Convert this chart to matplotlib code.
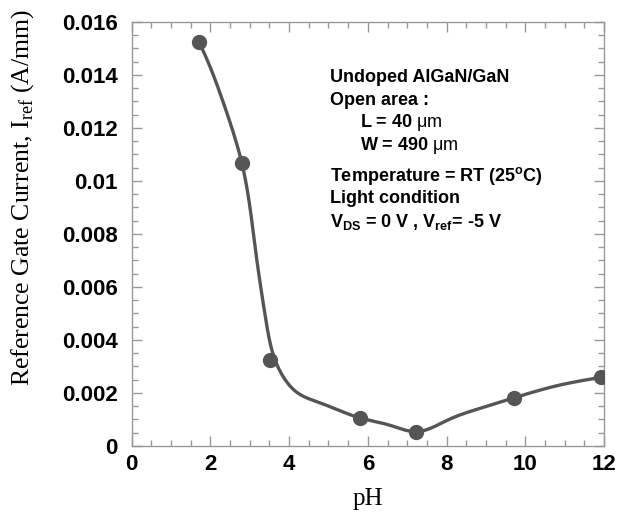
import numpy as np
import matplotlib
matplotlib.use("Agg")
import matplotlib.pyplot as plt
from matplotlib.ticker import MultipleLocator

plt.rcParams['mathtext.fontset'] = 'custom'
plt.rcParams['mathtext.rm'] = 'Liberation Serif'
plt.rcParams['mathtext.bf'] = 'Liberation Sans:bold'
plt.rcParams['mathtext.sf'] = 'Liberation Sans'

# measured data points
ph = [1.71, 2.80, 3.51, 5.80, 7.22, 9.72, 11.92]
current = [0.01526, 0.01067, 0.00325, 0.00105, 0.00054, 0.00182, 0.00259]

# fitted guide curve
fit_ph = [1.71, 1.98, 2.25, 2.53, 2.80, 3.15, 3.41, 3.66, 3.90, 4.20, 4.80, 5.80,
          6.59, 7.22, 8.03, 8.87, 9.72, 10.82, 11.92]
fit_current = [0.01526, 0.01435, 0.01329, 0.01207, 0.01067, 0.00735, 0.00475, 0.00318,
               0.00250, 0.00202, 0.00162, 0.00106, 0.00077, 0.00054, 0.00098, 0.00143,
               0.00182, 0.00228, 0.00259]

x_ticks = [0, 2, 4, 6, 8, 10, 12]
y_ticks = [0, 0.002, 0.004, 0.006, 0.008, 0.01, 0.012, 0.014, 0.016]
y_ticklabels = ['0', '0.002', '0.004', '0.006', '0.008', '0.01', '0.012', '0.014', '0.016']


def natural_spline(t, y, ts):
    t = np.asarray(t, float); y = np.asarray(y, float)
    n = len(t); h = np.diff(t)
    A = np.zeros((n, n)); b = np.zeros(n)
    A[0, 0] = 1; A[-1, -1] = 1
    for i in range(1, n - 1):
        A[i, i - 1] = h[i - 1]; A[i, i] = 2 * (h[i - 1] + h[i]); A[i, i + 1] = h[i]
        b[i] = 3 * ((y[i + 1] - y[i]) / h[i] - (y[i] - y[i - 1]) / h[i - 1])
    c = np.linalg.solve(A, b)
    bb = (y[1:] - y[:-1]) / h - h * (2 * c[:-1] + c[1:]) / 3
    d = (c[1:] - c[:-1]) / (3 * h)
    idx = np.clip(np.searchsorted(t, ts) - 1, 0, n - 2)
    dt = ts - t[idx]
    return y[idx] + bb[idx] * dt + c[idx] * dt**2 + d[idx] * dt**3


fig = plt.figure(figsize=(6.24, 5.22), dpi=100)
ax = fig.add_axes([0.211, 0.1456, 0.757, 0.8124])

# parametric spline in display-like units for a smooth knee
px = np.asarray(fit_ph) * 39.4
py = np.asarray(fit_current) * 26500
tt = np.concatenate([[0], np.cumsum(np.hypot(np.diff(px), np.diff(py)))])
ts = np.linspace(0, tt[-1], 1500)
cx = natural_spline(tt, px, ts) / 39.4
cy = natural_spline(tt, py, ts) / 26500
ax.plot(cx, cy, color='#555555', lw=2.4, zorder=2, solid_capstyle='round')
ax.plot(ph, current, 'o', color='#555555', ms=10, zorder=3)

ax.set_xlim(0, 12)
ax.set_ylim(0, 0.016)
ax.set_xticks(x_ticks)
ax.set_yticks(y_ticks)
ax.set_yticklabels(y_ticklabels)
ax.xaxis.set_minor_locator(MultipleLocator(0.5))
ax.yaxis.set_minor_locator(MultipleLocator(0.0005))
ax.tick_params(which='both', direction='in', top=True, right=True, color='#999999', width=1)
ax.tick_params(which='major', length=7)
ax.tick_params(which='minor', length=4)
ax.tick_params(axis='y', which='major', pad=10)
ax.tick_params(axis='x', which='major', pad=6)
for s in ax.spines.values():
    s.set_color('#999999')
    s.set_linewidth(1)
for lab in ax.get_xticklabels() + ax.get_yticklabels():
    lab.set_fontfamily('Liberation Sans')
    lab.set_fontweight('bold')
    lab.set_fontsize(16)

ax.set_xlabel('pH', fontfamily='Liberation Serif', fontsize=18, labelpad=9)
fig.text(23 / 624, 1 - 197 / 522, r'Reference Gate Current, I$_{\mathrm{ref}}$ (A/mm)',
         fontfamily='Liberation Serif', fontsize=18.5, rotation=90,
         ha='center', va='center')

kw = dict(transform=ax.transData, fontfamily='Liberation Sans', fontweight='bold',
          fontsize=13, color='black', va='baseline', ha='left')
dy = 0.00072
ax.text(5.05, 0.01445 - dy, 'Undoped AlGaN/GaN', **kw)
ax.text(5.05, 0.01360 - dy, 'Open area :', **kw)
ax.text(5.80, 0.01275 - dy, r'L = 40 $\mathsf{μm}$', **kw)
ax.text(5.80, 0.01190 - dy, r'W = 490 $\mathsf{μm}$', **kw)
ax.text(5.05, 0.01070 - dy, r'Temperature = RT (25$^{\mathbf{o}}$C)', **kw)
ax.text(5.05, 0.00987 - dy, 'Light condition', **kw)
ax.text(5.05, 0.00900 - dy, r'V$_{\mathbf{DS}}$ = 0 V , V$_{\mathbf{ref}}$= -5 V', **kw)

fig.savefig('out.png', dpi=100)
